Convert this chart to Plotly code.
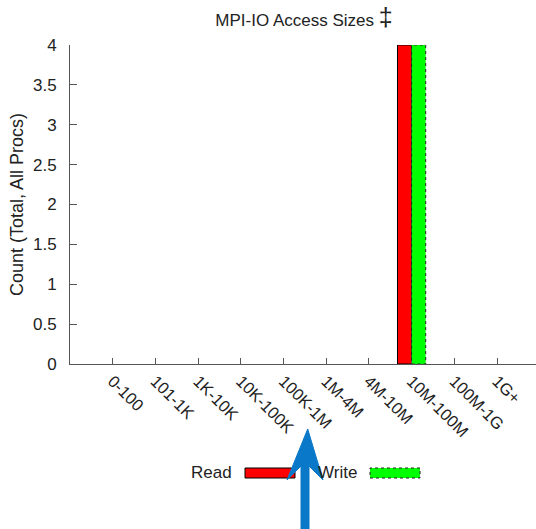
import plotly.graph_objects as go

categories = ["0-100", "101-1K", "1K-10K", "10K-100K", "100K-1M", "1M-4M",
              "4M-10M", "10M-100M", "100M-1G", "1G+"]
read_counts = [0, 0, 0, 0, 0, 0, 0, 4, 0, 0]
write_counts = [0, 0, 0, 0, 0, 0, 0, 4, 0, 0]
y_ticks = [0, 0.5, 1, 1.5, 2, 2.5, 3, 3.5, 4]

FONT = "Liberation Sans, Arial, Helvetica, sans-serif"
TXT = "#222222"
W, H = 536, 529
L, R, T, B = 70, 0, 45, 165
pw, ph = W - L - R, H - T - B

def px(x):
    return (x - L) / pw

def py(y):
    return (H - B - y) / ph

fig = go.Figure()
fig.add_trace(go.Bar(x=categories, y=read_counts, name="Read",
                     marker=dict(color="#ff0000",
                                 line=dict(color="#000000",
                                           width=[1 if v > 0 else 0 for v in read_counts]))))
fig.add_trace(go.Bar(x=categories, y=write_counts, name="Write",
                     marker=dict(color="#00ff00", line=dict(color="#00ff00", width=0))))

bargap = 0.34
bw = (1 - bargap) / 2
shapes = []
for i, v in enumerate(write_counts):
    if v > 0:
        shapes.append(dict(type="rect", xref="x", yref="y", x0=i, x1=i + bw, y0=0, y1=v,
                           line=dict(color="#222222", width=1, dash="dot"),
                           fillcolor="rgba(0,0,0,0)"))

# legend (manual, text left of sample)
shapes.append(dict(type="rect", xref="paper", yref="paper",
                   x0=px(245), x1=px(295), y0=py(478), y1=py(468),
                   fillcolor="#ff0000", line=dict(color="#000000", width=1)))
shapes.append(dict(type="rect", xref="paper", yref="paper",
                   x0=px(370), x1=px(420), y0=py(478), y1=py(468),
                   fillcolor="#00ff00", line=dict(color="#222222", width=1, dash="dot")))

# blue arrow overlay
arrow_pts = [(301, 535), (301, 466), (287, 480), (307.7, 429), (323, 480), (309, 466), (309, 535)]
path = "M " + " L ".join(f"{px(x):.5f},{py(y):.5f}" for x, y in arrow_pts) + " Z"
shapes.append(dict(type="path", xref="paper", yref="paper", path=path,
                   fillcolor="#0a78c8", line=dict(color="#0a78c8", width=1)))

annotations = [
    dict(text="Read", xref="paper", yref="paper", x=px(234), y=py(473),
         xanchor="right", yanchor="middle", showarrow=False,
         font=dict(family=FONT, size=17, color=TXT)),
    dict(text="Write", xref="paper", yref="paper", x=px(359), y=py(473),
         xanchor="right", yanchor="middle", showarrow=False,
         font=dict(family=FONT, size=17, color=TXT)),
]

fig.update_layout(
    width=W, height=H,
    margin=dict(l=L, r=R, t=T, b=B),
    paper_bgcolor="white", plot_bgcolor="white",
    barmode="group", bargap=bargap, bargroupgap=0,
    showlegend=False,
    title=dict(text="MPI-IO Access Sizes <span style='font-size:25px'>‡</span>",
               xref="container", x=304 / W, xanchor="center",
               yref="container", y=1 - 20 / H, yanchor="middle",
               font=dict(family=FONT, size=17, color=TXT)),
    font=dict(family=FONT, size=16, color=TXT),
    shapes=shapes, annotations=annotations,
)
fig.update_xaxes(
    type="category", categoryorder="array", categoryarray=categories,
    range=[-1, (W - 112.7) / 42.7],
    showline=True, linecolor="#555555", linewidth=1,
    ticks="inside", ticklen=6, tickcolor="#555555",
    tickangle=45, showgrid=False, zeroline=False,
    tickfont=dict(family=FONT, size=16.5, color=TXT),
)
fig.update_yaxes(
    range=[0, 4], tickvals=y_ticks, ticktext=[f"{v:g}" for v in y_ticks],
    showline=True, linecolor="#555555", linewidth=1,
    ticks="inside", ticklen=7, tickcolor="#555555",
    ticklabelstandoff=9,
    showgrid=False, zeroline=False,
    title=dict(text="Count (Total, All Procs)", standoff=4,
               font=dict(family=FONT, size=18, color=TXT)),
    tickfont=dict(family=FONT, size=17, color=TXT),
)

fig.write_html("out.html")
